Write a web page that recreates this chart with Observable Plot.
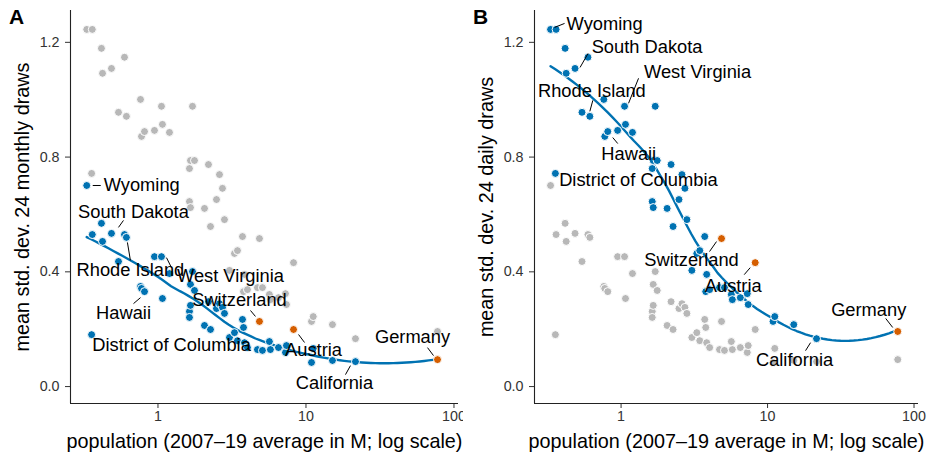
<!DOCTYPE html>
<html><head><meta charset="utf-8">
<script src="https://cdn.jsdelivr.net/npm/d3@7"></script>
<script src="https://cdn.jsdelivr.net/npm/@observablehq/plot@0.6"></script>
<style>
body{margin:0;background:#fff;font-family:"Liberation Sans",Arial,sans-serif;}
#wrap{display:flex;width:927px;height:456px;}
svg{overflow:visible}
</style></head><body><div id="wrap"></div>
<script>
// ---- data ----
const names = ["Wyoming","","District of Columbia","","","South Dakota","","","Rhode Island","",
  "","Hawaii","","West Virginia","","","","","","",
  "","","","","","","","","","",
  "","","","","","","","Switzerland","","",
  "","","","","Austria","","","","California","Germany"];
const population = [0.33,0.36,0.356,0.415,0.422,0.485,0.541,0.594,0.612,0.762,
  0.774,0.811,0.947,1.056,1.072,1.196,1.711,1.658,1.765,1.632,
  1.632,1.658,2.062,2.194,2.264,2.485,2.604,2.728,2.814,3.042,
  3.288,3.445,3.724,3.784,3.841,4.024,4.70,4.85,5.08,5.66,
  5.75,6.52,7.27,7.38,8.24,10.9,11.2,15.1,21.6,77.4];
const sdDaily = [1.245,1.245,0.743,1.179,1.092,1.109,0.956,1.148,0.942,1.001,
  0.872,0.889,0.893,0.977,0.914,0.886,0.977,0.788,0.788,0.760,
  0.645,0.624,0.621,0.774,0.558,0.652,0.739,0.691,0.582,0.405,
  0.464,0.474,0.523,0.331,0.391,0.338,0.345,0.516,0.345,0.321,
  0.303,0.310,0.324,0.286,0.432,0.227,0.244,0.216,0.167,0.192];
const sdMonthly = [0.701,0.530,0.181,0.569,0.506,0.534,0.436,0.530,0.520,0.349,
  0.342,0.331,0.453,0.453,0.307,0.394,0.401,0.356,0.335,0.262,
  0.241,0.283,0.213,0.296,0.199,0.272,0.289,0.276,0.255,0.171,
  0.188,0.160,0.234,0.206,0.153,0.136,0.129,0.227,0.126,0.157,
  0.129,0.136,0.119,0.143,0.199,0.084,0.133,0.091,0.087,0.094];
const countries = ["Switzerland","Austria","Germany"];
const xTicks = [1,10,100];
const yTicks = [0,0.4,0.8,1.2];
const panelTags = ["A","B"];
const yTitles = ["mean std. dev. 24 monthly draws","mean std. dev. 24 daily draws"];
const xTitle = "population (2007\u201319 average in M; log scale)";

// ---- styles / layout ----
const BLUE = "#0072B2", ORANGE = "#D55E00", GREY = "#b8b8b8";
const H = 456, MT = 10, MB = 53;
const xDomain = [0.2564, 107.3], yDomain = [-0.059, 1.311];
const labelOffsets = {
  monthly: {
    "Wyoming": {t:[55,0], s:[6,0,14,0]},
    "South Dakota": {t:[22,-21], s:[7,-6,12,-13]},
    "Rhode Island": {t:[4,33], s:[1,5,4,23]},
    "West Virginia": {t:[69,20], s:[5,1,10,11]},
    "Hawaii": {t:[-21,22], s:[-4,6,-11,12]},
    "District of Columbia": {t:[80,10]},
    "Switzerland": {t:[-20,-21], s:[-4,-5,-9,-11]},
    "Austria": {t:[20,21], s:[5,5,11,13]},
    "Germany": {t:[-25,-22], s:[-4,-4,-10,-12]},
    "California": {t:[-21,22], s:[-5,4,-10,13]}
  },
  daily: {
    "Wyoming": {t:[54,-5], s:[4,-2,14,-6]},
    "South Dakota": {t:[72,-21], s:[5,-1,13,-15]},
    "Rhode Island": {t:[2,-25], s:[0,-5,3,-16]},
    "West Virginia": {t:[73,-34], s:[4,-3,14,-28]},
    "Hawaii": {t:[21,23], s:[5,6,10,12]},
    "District of Columbia": {t:[83,7]},
    "Switzerland": {t:[-30,22], s:[-5,3,-12,13]},
    "Austria": {t:[-22,23], s:[-5,5,-11,12]},
    "Germany": {t:[-29,-21], s:[-5,-4,-12,-13]},
    "California": {t:[-22,21], s:[-6,4,-11,12]}
  }
};
const panels = [
  {key:"monthly", other:"daily", w:463, ml:70, mr:5},
  {key:"daily", other:"monthly", w:464, ml:71, mr:9}
];

const rows = names.map((name,i)=>({name, pop:population[i], daily:sdDaily[i], monthly:sdMonthly[i],
  country: countries.includes(name)}));

// local quadratic loess (span .75, tricube) on log10 x, as geom_smooth does
function loess(px, py, span=0.75, n=80){
  const N = px.length, q = Math.floor(span*N);
  const lo = d3.min(px), hi = d3.max(px), out = [];
  for (let k=0;k<n;k++){
    const x0 = lo + (hi-lo)*k/(n-1);
    const d = px.map(x=>Math.abs(x-x0));
    const h = d.slice().sort((a,b)=>a-b)[q-1] * 1.0000001;
    const S=[0,0,0,0,0], T=[0,0,0];
    for (let i=0;i<N;i++){
      const u=d[i]/h; if(u>=1) continue;
      const w=Math.pow(1-u*u*u,3), t=px[i]-x0;
      let tp=1;
      for(let j=0;j<5;j++){ S[j]+=w*tp; if(j<3) T[j]+=w*tp*py[i]; tp*=t; }
    }
    const det = S[0]*(S[2]*S[4]-S[3]*S[3]) - S[1]*(S[1]*S[4]-S[3]*S[2]) + S[2]*(S[1]*S[3]-S[2]*S[2]);
    const det0 = T[0]*(S[2]*S[4]-S[3]*S[3]) - S[1]*(T[1]*S[4]-S[3]*T[2]) + S[2]*(T[1]*S[3]-S[2]*T[2]);
    out.push({x: Math.pow(10,x0), y: det0/det});
  }
  return out;
}

panels.forEach((p, pi)=>{
  const xs = d3.scaleLog().domain(xDomain).range([p.ml, p.w-p.mr]);
  const ys = d3.scaleLinear().domain(yDomain).range([H-MB, MT]);
  const offs = labelOffsets[p.key];
  const labs = rows.filter(d=>d.name && offs[d.name]).map(d=>{
    const o = offs[d.name], X = xs(d.pop), Y = ys(d[p.key]);
    const r = {name:d.name, tx: xs.invert(X+o.t[0]), ty: ys.invert(Y+o.t[1])};
    if (o.s) { r.x1=xs.invert(X+o.s[0]); r.y1=ys.invert(Y+o.s[1]); r.x2=xs.invert(X+o.s[2]); r.y2=ys.invert(Y+o.s[3]); }
    return r;
  });
  const curve = loess(rows.map(d=>Math.log10(d.pop)), rows.map(d=>d[p.key]));
  const chart = Plot.plot({
    width: p.w, height: H, marginLeft: p.ml, marginRight: p.mr, marginTop: MT, marginBottom: MB,
    x: {type:"log", domain: xDomain},
    y: {domain: yDomain},
    style: {fontFamily: "'Liberation Sans', Arial, sans-serif", overflow: "visible", background: "white"},
    marks: [
      Plot.axisX({ticks: xTicks, tickFormat: d=>String(d), tickSize: 5, tickPadding: 2, fontSize: 14.3, fill: "#333", stroke: "#333", label: null}),
      Plot.axisY({ticks: yTicks, tickFormat: d=>d.toFixed(1), tickSize: 5, tickPadding: 6, fontSize: 14.3, fill: "#333", stroke: "#333", label: null}),
      Plot.ruleY([yDomain[0]], {stroke: "#222", strokeWidth: 1.1}),
      Plot.ruleX([xDomain[0]], {stroke: "#222", strokeWidth: 1.1}),
      Plot.dot(rows, {x: "pop", y: p.other, r: 4, fill: GREY, stroke: "white", strokeWidth: 1}),
      Plot.line(curve, {x: "x", y: "y", stroke: BLUE, strokeWidth: 2.4}),
      Plot.dot(rows.filter(d=>!d.country), {x: "pop", y: p.key, r: 4, fill: BLUE, stroke: "white", strokeWidth: 1}),
      Plot.dot(rows.filter(d=>d.country), {x: "pop", y: p.key, r: 4, fill: ORANGE, stroke: "white", strokeWidth: 1}),
      Plot.link(labs.filter(d=>d.x1 !== undefined), {x1:"x1", y1:"y1", x2:"x2", y2:"y2", stroke: "black", strokeWidth: 1}),
      Plot.text(labs, {x:"tx", y:"ty", text:"name", fontSize: 18.3, fill: "black", textAnchor: "middle", lineAnchor: "middle"}),
      Plot.text([yTitles[pi]], {text: d=>d, frameAnchor: "left", dx: -48, rotate: -90, fontSize: 19.8, fill: "black", textAnchor: "middle", lineAnchor: "middle"}),
      Plot.text([xTitle], {text: d=>d, frameAnchor: "bottom", dy: 38, fontSize: 19.8, fill: "black", textAnchor: "middle", lineAnchor: "middle"}),
      Plot.text([panelTags[pi]], {text: d=>d, frameAnchor: "top-left", dx: -54, dy: 7, fontSize: 21, fontWeight: "bold", fill: "black", textAnchor: "middle", lineAnchor: "middle"})
    ]
  });
  document.getElementById("wrap").appendChild(chart);
});
</script></body></html>
